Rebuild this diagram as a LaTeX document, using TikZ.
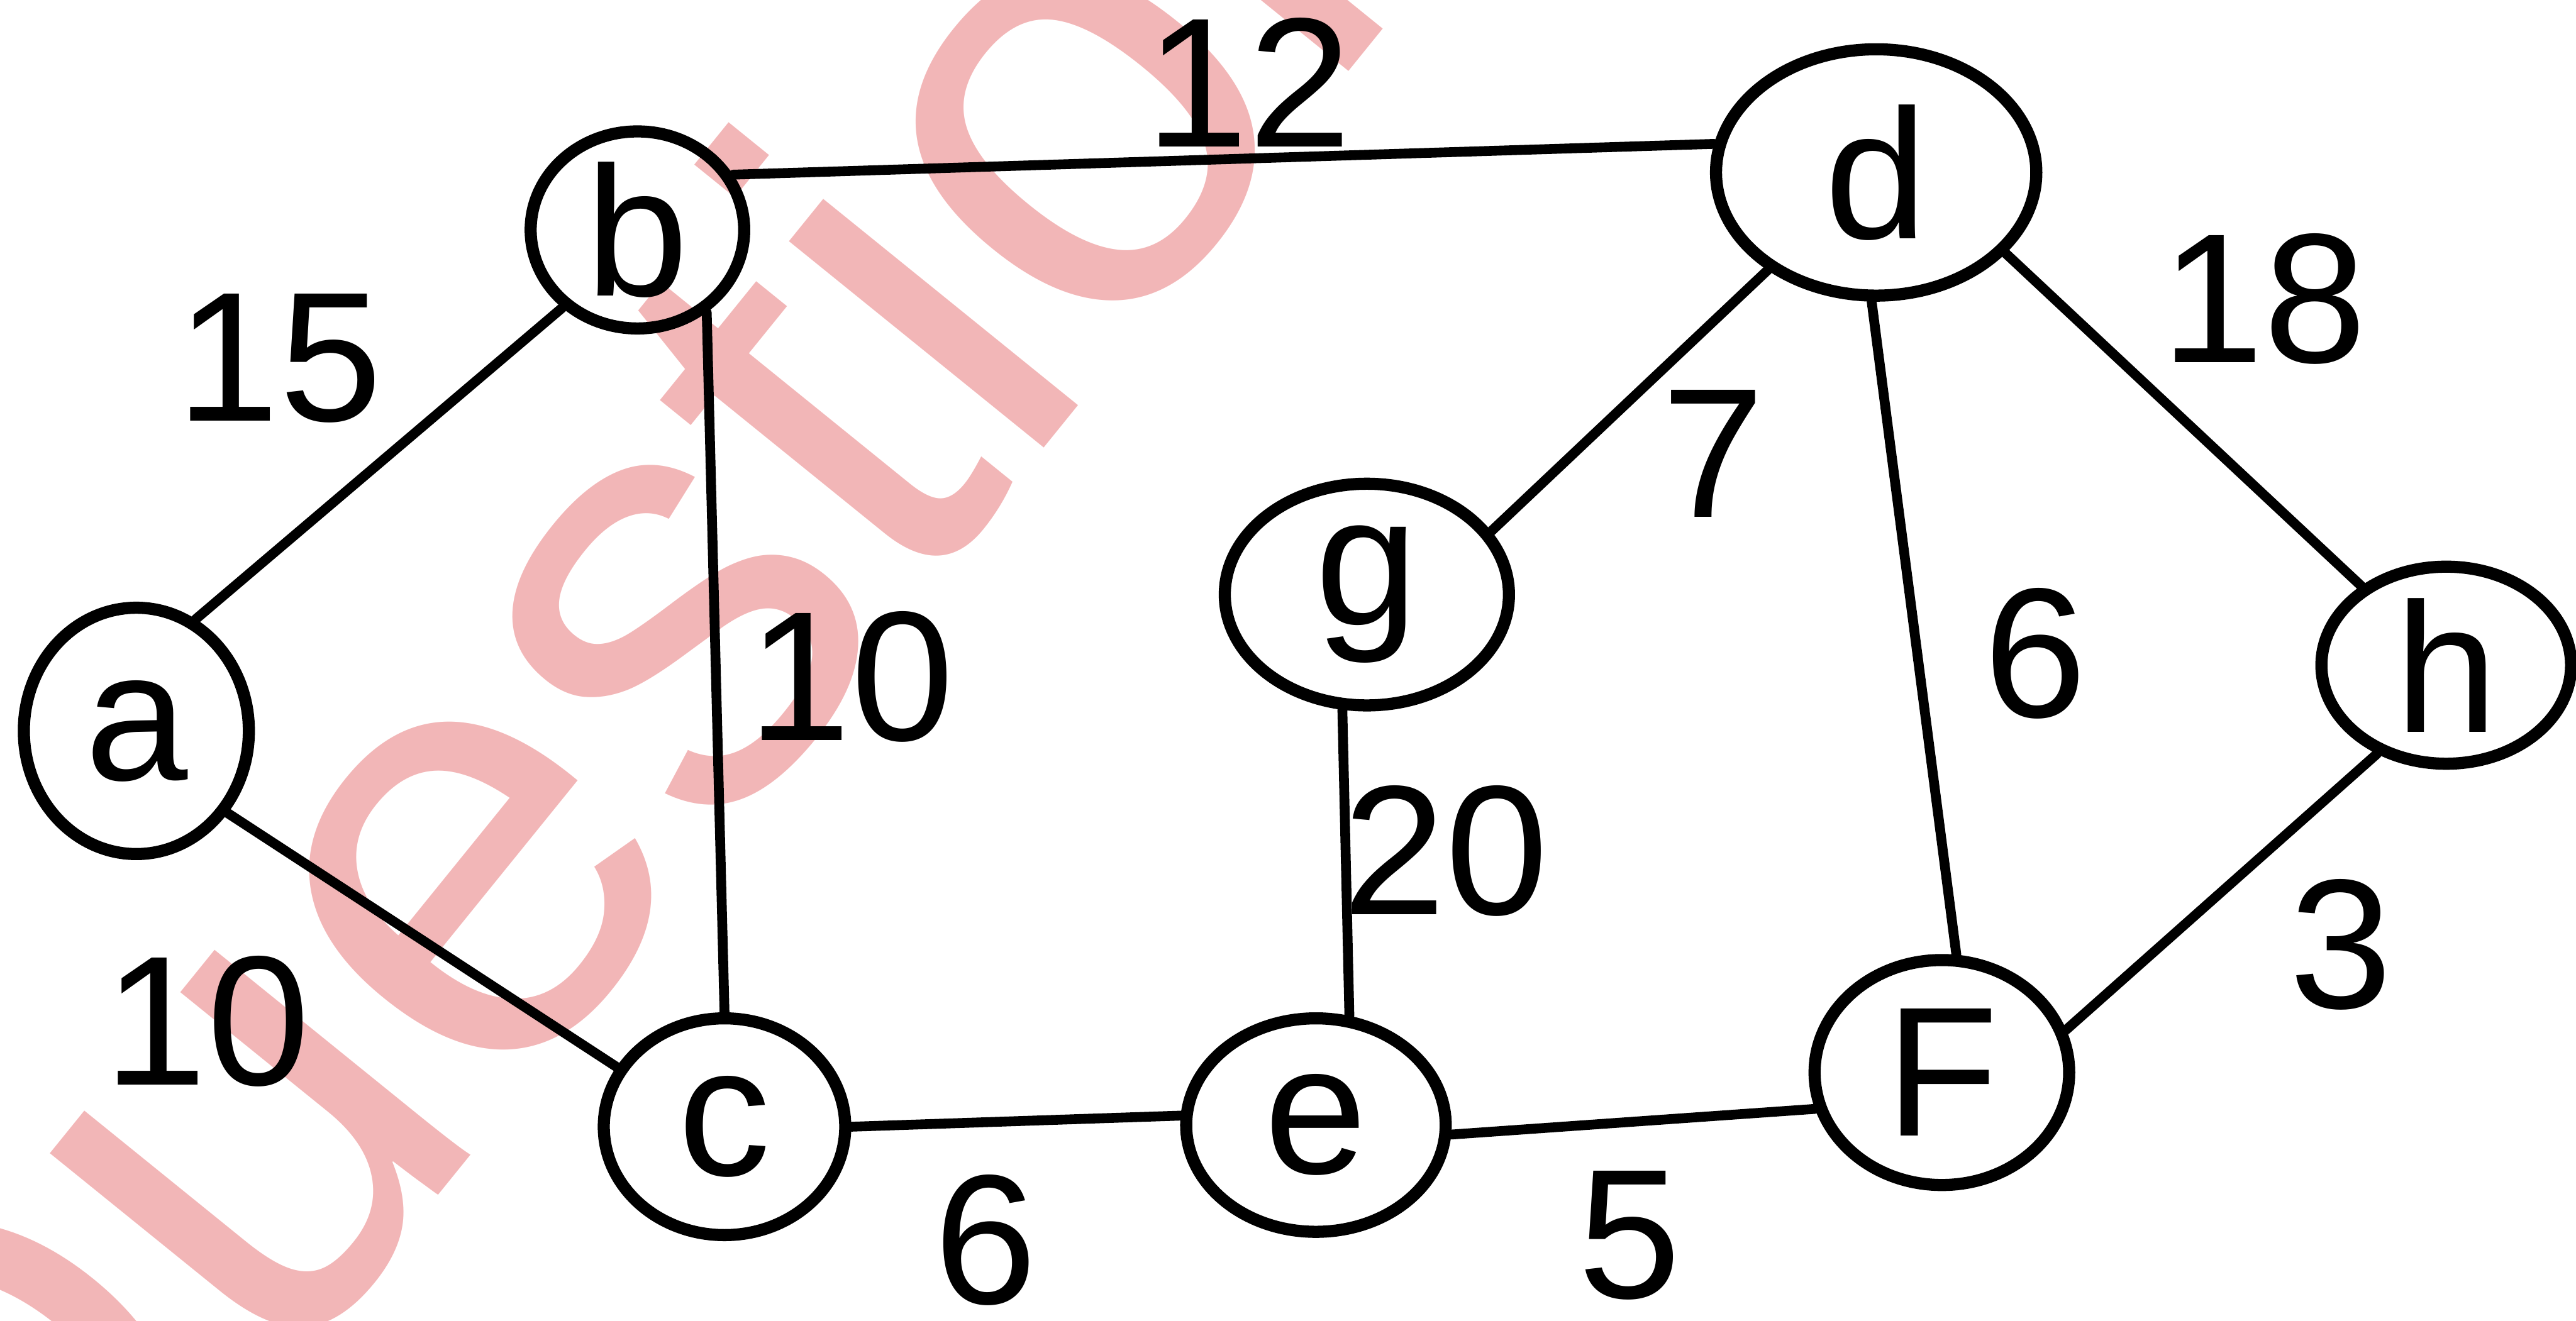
\documentclass[tikz,border=0pt]{standalone}
\usepackage{fontspec}
\setmainfont{Liberation Sans}
\usetikzlibrary{shapes.geometric}
\definecolor{wmpink}{RGB}{242,182,183}

\begin{document}
\begin{tikzpicture}[x=0.02cm, y=-0.02cm,
  vertex/.style={draw, ellipse, line width=4.2pt, inner sep=0pt, font=\fontsize{64}{64}\selectfont},
  wt/.style={font=\fontsize{64}{64}\selectfont, inner sep=0pt},
  edge/.style={line width=3.4pt, line cap=round}]
\useasboundingbox (0,0) rectangle (1568,804);
\clip (0,0) rectangle (1568,804);
% watermark
\node[wmpink, rotate=51, anchor=base, inner sep=0pt, font=\fontsize{215}{215}\selectfont] (mark) at (461,488) {Question};
% vertices
\node[vertex, minimum width=2.74cm, minimum height=3cm] (a) at (83,445) {a};
\node[vertex, minimum width=2.6cm, minimum height=2.4cm] (b) at (388,140) {b};
\node[vertex, minimum width=2.94cm, minimum height=2.64cm] (c) at (441,686) {c};
\node[vertex, minimum width=3.9cm, minimum height=3cm] (d) at (1142,105) {d};
\node[vertex, minimum width=3.46cm, minimum height=2.7cm] (g) at (832,362) {g};
\node[vertex, minimum width=3.04cm, minimum height=2.4cm] (h) at (1489,405) {h};
\node[vertex, minimum width=3.16cm, minimum height=2.6cm] (e) at (801,685) {e};
\node[vertex, minimum width=3.1cm, minimum height=2.74cm] (f) at (1182,653) {F};
% edges
\draw[edge] (a.62) -- (b.226);
\draw[edge] (a.-42) -- (c.151);
\draw[edge] (b.-50) -- (c.90);
\draw[edge] (b.30) -- (d.170);
\draw[edge] (d.222) -- (g.27);
\draw[edge] (d.268) -- (f.83);
\draw[edge] (d.-32) -- (h.137);
\draw[edge] (g.258) -- (e.73);
\draw[edge] (c.0) -- (e.176);
\draw[edge] (e.-4) -- (f.196);
\draw[edge] (f.19) -- (h.232);
% weights
\node[wt] (lab) at (170,218) {15};
\node[wt] (lac) at (126,622) {10};
\node[wt] (lbc) at (518,412) {10};
\node[wt] (lbd) at (760,50) {12};
\node[wt] (ldg) at (1043,276) {7};
\node[wt] (ldf) at (1239,398) {6};
\node[wt] (ldh) at (1378,182) {18};
\node[wt] (lge) at (880,518) {20};
\node[wt] (lce) at (600,755) {6};
\node[wt] (lef) at (992,752) {5};
\node[wt] (lfh) at (1425,575) {3};
\end{tikzpicture}
\end{document}
